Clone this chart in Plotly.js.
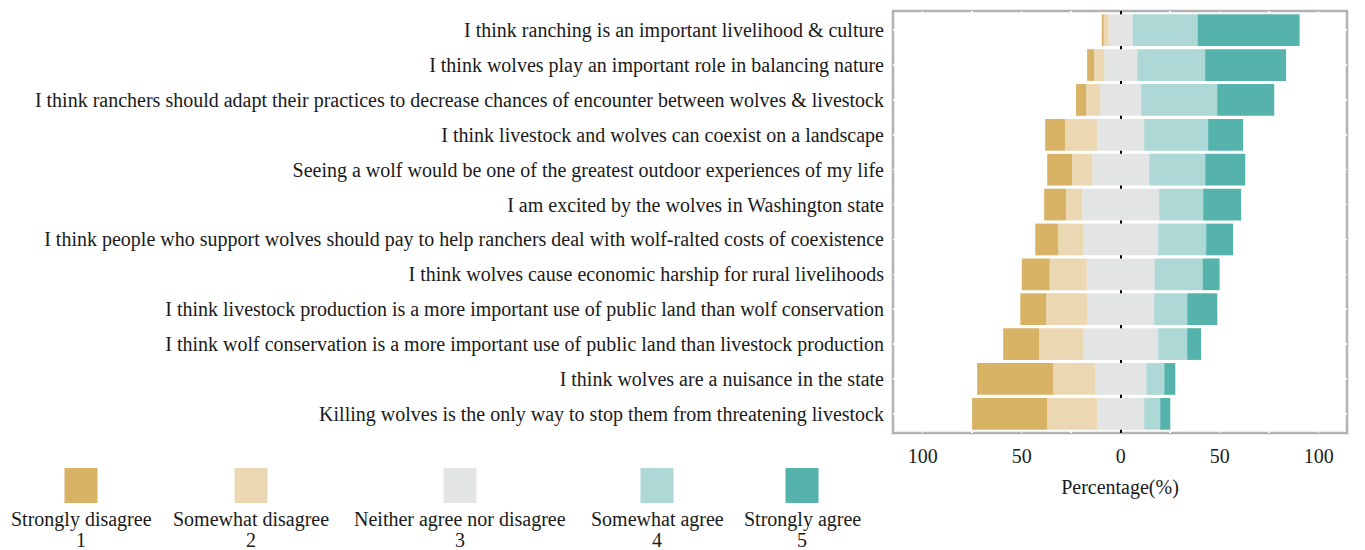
<!DOCTYPE html>
<html>
<head>
<meta charset="utf-8">
<script src="https://cdn.plot.ly/plotly-3.0.1.min.js"></script>
<style>html,body{margin:0;padding:0;background:#fff;}#chart{width:1365px;height:550px;}</style>
</head>
<body>
<div id="chart"></div>
<script>
// ---- data ----
const statements = [
  "I think ranching is an important livelihood & culture",
  "I think wolves play an important role in balancing nature",
  "I think ranchers should adapt their practices to decrease chances of encounter between wolves & livestock",
  "I think livestock and wolves can coexist on a landscape",
  "Seeing a wolf would be one of the greatest outdoor experiences of my life",
  "I am excited by the wolves in Washington state",
  "I think people who support wolves should pay to help ranchers deal with wolf-ralted costs of coexistence",
  "I think wolves cause economic harship for rural livelihoods",
  "I think livestock production is a more important use of public land than wolf conservation",
  "I think wolf conservation is a more important use of public land than livestock production",
  "I think wolves are a nuisance in the state",
  "Killing wolves is the only way to stop them from threatening livestock"
];
const stronglyDisagree = [1.0, 3.5, 5.1, 10.1, 12.6, 11.1, 11.6, 14.1, 13.1, 18.2, 38.4, 37.9];
const somewhatDisagree = [2.5, 5.1, 7.1, 16.2, 10.1, 8.1, 12.6, 18.7, 20.7, 22.2, 21.2, 25.3];
const neutral          = [12.1, 16.7, 20.7, 23.7, 28.8, 38.9, 37.9, 34.3, 33.8, 37.9, 25.8, 23.7];
const somewhatAgree    = [32.8, 34.3, 38.4, 32.3, 28.3, 22.2, 24.2, 24.2, 16.7, 14.6, 9.1, 8.1];
const stronglyAgree    = [51.5, 40.9, 28.8, 17.7, 20.2, 19.2, 13.6, 8.6, 15.2, 7.1, 5.6, 5.1];

const levelNames = ["Strongly disagree", "Somewhat disagree", "Neither agree nor disagree", "Somewhat agree", "Strongly agree"];
const levelCodes = ["1", "2", "3", "4", "5"];
const levelColors = ["#D8B265", "#EBD7B1", "#E3E5E4", "#ADD8D5", "#56B3AC"];

const xTickVals = [-100, -75, -50, -25, 0, 25, 50, 75, 100];
const xTickText = ["100", "", "50", "", "0", "", "50", "", "100"];

// ---- layout geometry ----
const W = 1365, H = 550;
const M = {l: 893, r: 18, t: 11, b: 117};
const plotW = W - M.l - M.r, plotH = H - M.t - M.b;
const px = x => (x - M.l) / plotW;
const py = y => (H - M.b - y) / plotH;
const FONT = "Liberation Serif, Times New Roman, serif";

// diverging stack: neutral centred on zero
const neutralBase = neutral.map(v => -v / 2);
const swdBase = neutral.map((v, i) => -v / 2 - somewhatDisagree[i]);
const sdBase = neutral.map((v, i) => -v / 2 - somewhatDisagree[i] - stronglyDisagree[i]);
const saBase = neutral.map(v => v / 2);
const staBase = neutral.map((v, i) => v / 2 + somewhatAgree[i]);

function bar(vals, base, color, name) {
  return {
    type: "bar", orientation: "h", y: statements, x: vals, base: base,
    marker: {color: color, line: {width: 0}}, name: name,
    showlegend: false, hoverinfo: "x+name"
  };
}
const traces = [
  bar(neutral, neutralBase, levelColors[2], levelNames[2]),
  bar(somewhatDisagree, swdBase, levelColors[1], levelNames[1]),
  bar(stronglyDisagree, sdBase, levelColors[0], levelNames[0]),
  bar(somewhatAgree, saBase, levelColors[3], levelNames[3]),
  bar(stronglyAgree, staBase, levelColors[4], levelNames[4])
];

// manual legend (keys above labels, ggplot style)
const legendCenters = [81, 251, 460, 657, 802];
const shapes = [
  {
    type: "rect", xref: "paper", yref: "paper", x0: 0, x1: 1, y0: 0, y1: 1,
    layer: "below", line: {color: "#b3b3b3", width: 2.5}, fillcolor: "rgba(0,0,0,0)"
  }
];
const annotations = [];
levelNames.forEach((nm, i) => {
  const c = legendCenters[i];
  shapes.push({
    type: "rect", xref: "paper", yref: "paper",
    x0: px(c - 16.5), x1: px(c + 16.5), y0: py(503), y1: py(468),
    line: {width: 0}, fillcolor: levelColors[i], layer: "above"
  });
  annotations.push({
    xref: "paper", yref: "paper", x: px(c), y: py(519), xanchor: "center", yanchor: "middle",
    text: nm, showarrow: false, font: {family: FONT, size: 20, color: "#1a1a1a"}
  });
  annotations.push({
    xref: "paper", yref: "paper", x: px(c), y: py(540), xanchor: "center", yanchor: "middle",
    text: levelCodes[i], showarrow: false, font: {family: FONT, size: 20, color: "#1a1a1a"}
  });
});

const layout = {
  width: W, height: H,
  margin: M,
  paper_bgcolor: "#fff", plot_bgcolor: "#fff",
  barmode: "overlay", bargap: 0.09,
  font: {family: FONT, size: 20, color: "#1a1a1a"},
  showlegend: false,
  xaxis: {
    range: [-115, 114.3],
    tickmode: "array", tickvals: xTickVals, ticktext: xTickText,
    showgrid: true, gridcolor: "#ffffff", gridwidth: 1.5,
    zeroline: true, zerolinecolor: "#000000", zerolinewidth: 2,
    showline: false, ticks: "", ticklabelstandoff: 9,
    tickfont: {family: FONT, size: 20, color: "#1a1a1a"},
    title: {text: "Percentage(%)", font: {family: FONT, size: 20, color: "#1a1a1a"}, standoff: 13},
    fixedrange: true
  },
  yaxis: {
    type: "category",
    categoryorder: "array", categoryarray: statements,
    range: [11.55, -0.55],
    showgrid: true, gridcolor: "#ffffff", gridwidth: 1.5,
    zeroline: false, showline: false, ticks: "", ticklabelstandoff: 8,
    tickfont: {family: FONT, size: 20, color: "#1a1a1a"},
    fixedrange: true
  },
  shapes: shapes,
  annotations: annotations
};

Plotly.newPlot("chart", traces, layout, {displayModeBar: false, staticPlot: true});
</script>
</body>
</html>
